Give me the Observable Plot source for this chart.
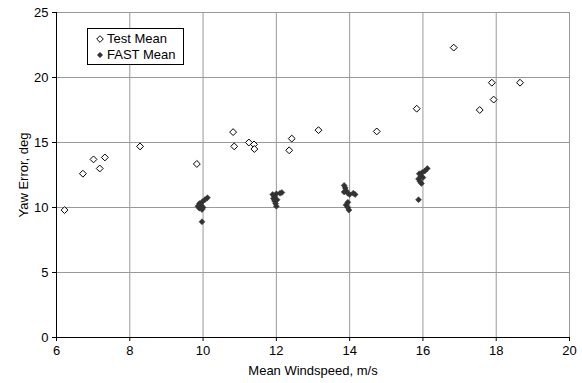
<!DOCTYPE html>
<html>
<head>
<meta charset="utf-8">
<script src="https://cdn.jsdelivr.net/npm/d3@7"></script>
<script src="https://cdn.jsdelivr.net/npm/@observablehq/plot@0.6"></script>
<style>
  body { margin: 0; background: #fff; }
  #wrap { position: relative; width: 582px; height: 383px; font-family: "Liberation Sans", Arial, sans-serif; }
  .legend { position: absolute; left: 87px; top: 28px; width: 95px; height: 35px; border: 1px solid #000; background: #fff; font-size: 13px; }
  .legend div { position: absolute; left: 8px; height: 16px; line-height: 16px; white-space: nowrap; }
  .legend svg { vertical-align: middle; margin-right: 3px; position: relative; top: -1px; }
</style>
</head>
<body>
<div id="wrap"></div>
<script>
// Measured yaw error versus mean wind speed
const testSpeed = [6.22, 6.72, 7.01, 7.18, 7.32, 8.28, 9.83, 10.82, 10.85, 11.25, 11.39, 11.40,
  12.35, 12.42, 13.15, 14.74, 15.83, 16.84, 17.55, 17.88, 17.93, 18.65];
const testYaw = [9.8, 12.6, 13.7, 13.0, 13.85, 14.7, 13.35, 15.8, 14.7, 15.0, 14.85, 14.5,
  14.4, 15.3, 15.95, 15.85, 17.6, 22.3, 17.5, 19.6, 18.3, 19.6];

// FAST simulation means, grouped around the 10, 12, 14 and 16 m/s bins
const fastSpeed = [10.12, 10.05, 9.98, 9.90, 9.86, 9.90, 9.97, 10.00, 9.95, 9.97,
  11.90, 11.95, 12.00, 12.10, 12.15, 11.92, 11.95, 11.98, 12.00, 12.02,
  13.85, 13.88, 13.90, 13.95, 14.00, 14.10, 14.15, 13.85, 13.95, 13.90, 13.95, 13.98,
  16.12, 16.05, 15.98, 15.90, 15.95, 15.88, 15.92, 15.96, 16.00, 15.88];
const fastYaw = [10.75, 10.6, 10.45, 10.3, 10.1, 9.95, 9.85, 10.0, 10.15, 8.9,
  11.0, 10.85, 11.05, 11.1, 11.15, 10.7, 10.5, 10.3, 10.1, 10.6,
  11.7, 11.5, 11.3, 11.1, 11.0, 11.1, 11.0, 11.2, 10.4, 10.2, 10.0, 9.8,
  13.0, 12.8, 12.7, 12.6, 12.4, 12.2, 12.0, 11.85, 12.3, 10.6];

const xTicks = [6, 8, 10, 12, 14, 16, 18, 20];
const yTicks = [0, 5, 10, 15, 20, 25];

const test = testSpeed.map((x, i) => ({x, y: testYaw[i]}));
const fast = fastSpeed.map((x, i) => ({x, y: fastYaw[i]}));

const chart = Plot.plot({
  width: 582,
  height: 383,
  marginLeft: 56,
  marginRight: 13,
  marginTop: 12,
  marginBottom: 46,
  style: { fontFamily: "Liberation Sans, Arial, sans-serif", fontSize: "13px", color: "#000", background: "#fff" },
  x: { domain: [6, 20] },
  y: { domain: [0, 25] },
  marks: [
    Plot.gridX(xTicks, { stroke: "#999", strokeOpacity: 1 }),
    Plot.gridY(yTicks, { stroke: "#999", strokeOpacity: 1 }),
    Plot.frame({ stroke: "#999" }),
    Plot.ruleX([6], { stroke: "#000" }),
    Plot.ruleY([0], { stroke: "#000" }),
    Plot.axisX({ ticks: xTicks, tickSize: 4, tickPadding: 4, label: "Mean Windspeed, m/s",
      labelAnchor: "center", labelOffset: 37, labelArrow: "none", fontSize: 13 }),
    Plot.axisY({ ticks: yTicks, tickSize: 4, tickPadding: 4, label: "Yaw Error, deg",
      labelAnchor: "center", labelOffset: 38, labelArrow: "none", fontSize: 13 }),
    Plot.dot(fast, { x: "x", y: "y", symbol: "diamond2", r: 2.7, fill: "#333", stroke: "#333", strokeWidth: 0.5 }),
    Plot.dot(test, { x: "x", y: "y", symbol: "diamond2", r: 3.1, fill: "#fff", stroke: "#000", strokeWidth: 1 })
  ]
});

const wrap = document.getElementById("wrap");
wrap.appendChild(chart);

const legend = document.createElement("div");
legend.className = "legend";
legend.innerHTML = `
  <div style="top:2px"><svg width="8" height="8" viewBox="-4 -4 8 8"><path d="M0,-3.3L3.3,0L0,3.3L-3.3,0Z" fill="#fff" stroke="#000" stroke-width="1"/></svg>Test Mean</div>
  <div style="top:18px"><svg width="8" height="8" viewBox="-4 -4 8 8"><path d="M0,-3L3,0L0,3L-3,0Z" fill="#333"/></svg>FAST Mean</div>`;
wrap.appendChild(legend);
</script>
</body>
</html>
